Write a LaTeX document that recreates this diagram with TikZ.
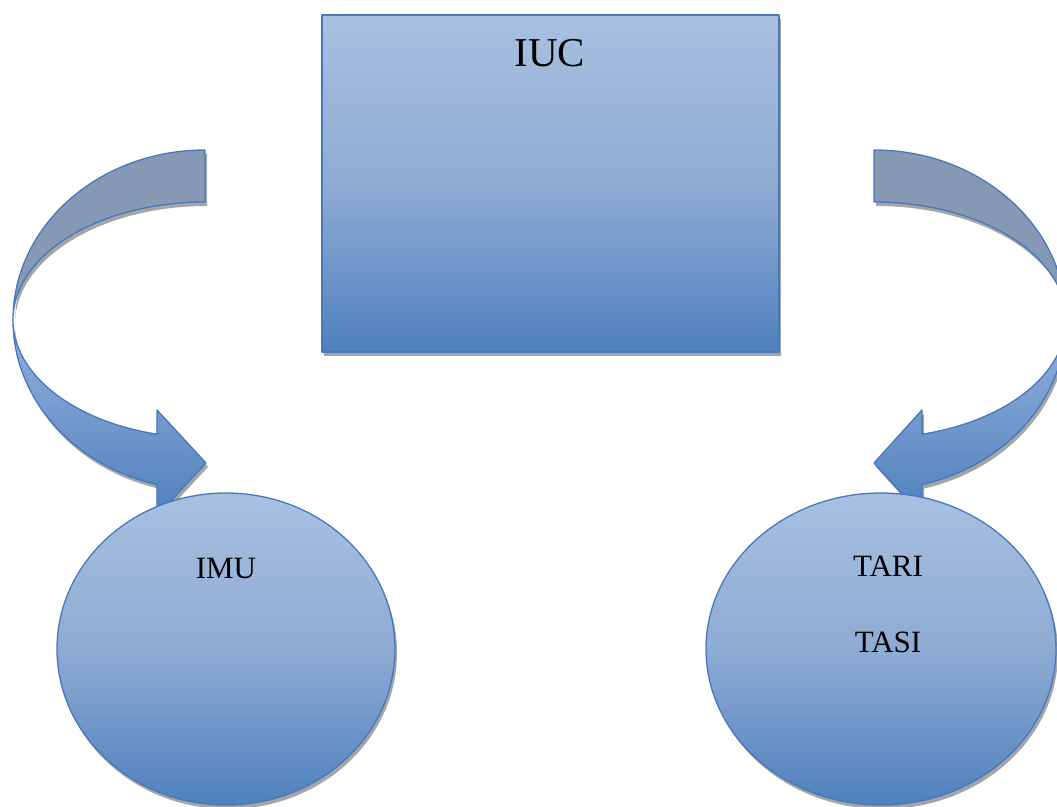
\documentclass[tikz,border=0pt]{standalone}
\usepackage{fontspec}
\setmainfont{Liberation Serif}
\usetikzlibrary{shapes.geometric,shadows}
\definecolor{lightblue}{RGB}{168,192,224}
\definecolor{midblue}{RGB}{143,171,212}
\definecolor{darkblue}{RGB}{79,129,189}
\definecolor{edgeblue}{RGB}{70,120,190}
\definecolor{backblue}{RGB}{133,153,180}
\definecolor{shadowgray}{RGB}{165,165,165}
\definecolor{lowlight}{RGB}{150,178,220}
\newcommand\LUp{(205,-150) arc[start angle=90,end angle=180,x radius=192pt,y radius=170pt] arc[start angle=180,end angle=90,x radius=192pt,y radius=118pt] -- cycle}
\newcommand\LLow{(13,-320) arc[start angle=180,end angle=255.5,x radius=192pt,y radius=170pt] -- (157,-516) -- (206,-463) -- (157,-410) -- (156.9,-434.2) arc[start angle=255.5,end angle=180,x radius=192pt,y radius=118pt] -- cycle}
\newcommand\RUp{(874,-150) arc[start angle=90,end angle=0,x radius=192pt,y radius=170pt] arc[start angle=0,end angle=90,x radius=192pt,y radius=118pt] -- cycle}
\newcommand\RLow{(1066,-320) arc[start angle=0,end angle=-75.5,x radius=192pt,y radius=170pt] -- (922,-516) -- (874,-463) -- (922,-410) -- (922.1,-434.2) arc[start angle=-75.5,end angle=0,x radius=192pt,y radius=118pt] -- cycle}
\tikzset{
  outline/.style={draw=edgeblue,line width=1.3pt,line join=round},
  shade3/.style={top color=lightblue,bottom color=darkblue,middle color=midblue},
  shd/.style={drop shadow={shadow xshift=2pt,shadow yshift=-4pt,fill=shadowgray,opacity=1}},
  lbl/.style={anchor=base,inner sep=0pt,text=black}
}
\begin{document}
\begin{tikzpicture}[x=1pt,y=1pt]
\useasboundingbox (0,0) rectangle (1057,-806);
% shadows of arrows
\begin{scope}[shift={(2,-4)}]
  \fill[shadowgray] \LUp;
  \fill[shadowgray] \LLow;
  \fill[shadowgray] \RUp;
  \fill[shadowgray] \RLow;
\end{scope}
% arrows
\fill[backblue] \LUp;
\draw[outline] \LUp;
\shade[top color=lowlight,bottom color=darkblue] \LLow;
\draw[outline] \LLow;
\fill[backblue] \RUp;
\draw[outline] \RUp;
\shade[top color=lowlight,bottom color=darkblue] \RLow;
\draw[outline] \RLow;
% box
\node[outline,shade3,shd,rectangle,minimum width=457pt,minimum height=337pt,inner sep=0pt] (iuc) at (550.5,-183.5) {};
\node[lbl,font=\fontsize{41}{41}\selectfont] (iuctext) at (550,-66) {IUC};
% circles
\node[outline,shade3,shd,ellipse,minimum width=338pt,minimum height=312pt,inner sep=0pt] (imu) at (226,-649) {};
\node[outline,shade3,shd,ellipse,minimum width=350pt,minimum height=312pt,inner sep=0pt] (tari) at (881,-649) {};
\node[lbl,font=\fontsize{31}{31}\selectfont] (imutext) at (226,-578) {IMU};
\node[lbl,font=\fontsize{31}{31}\selectfont] (taritext) at (888,-576) {TARI};
\node[lbl,font=\fontsize{31}{31}\selectfont] (tasitext) at (888,-652) {TASI};
\end{tikzpicture}
\end{document}
